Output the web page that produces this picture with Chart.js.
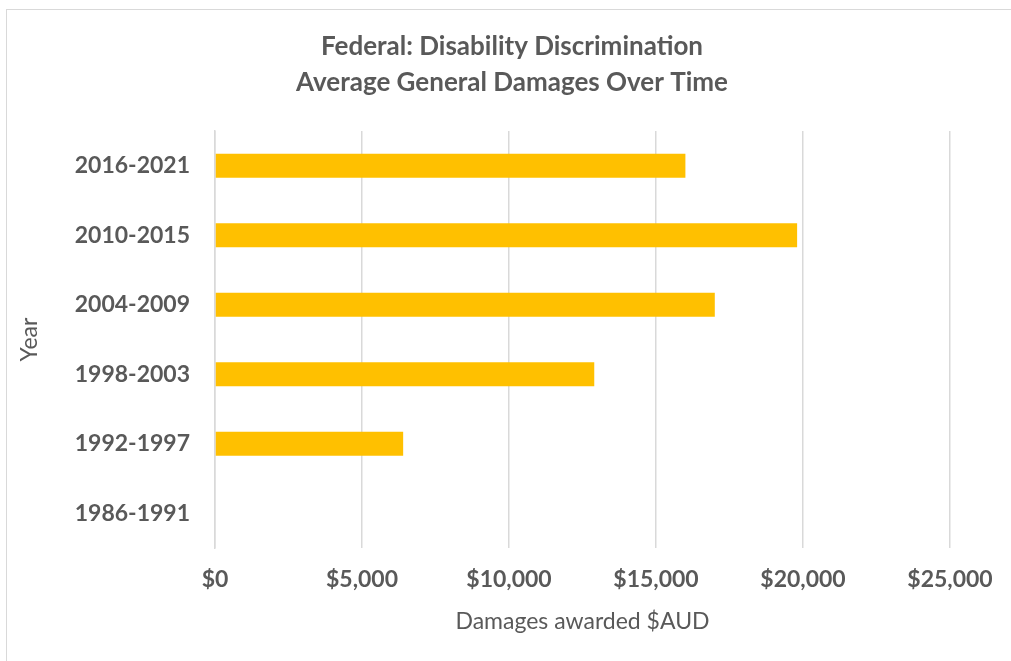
<!DOCTYPE html>
<html>
<head>
<meta charset="utf-8">
<script src="https://cdn.jsdelivr.net/npm/chart.js@4/dist/chart.umd.min.js"></script>
<style>
  html, body { margin: 0; padding: 0; background: #fff; overflow: hidden; }
  #frame {
    position: absolute; left: 6px; top: 9px; width: 1100px; height: 800px;
    border-top: 1px solid #d9d9d9; border-left: 1px solid #d9d9d9;
  }
  #wrap { position: absolute; left: 0; top: 0; width: 1011px; height: 661px; }
</style>
</head>
<body>
<div id="frame"></div>
<div id="wrap"><canvas id="damagesChart"></canvas></div>
<script>
const periods = ['2016-2021', '2010-2015', '2004-2009', '1998-2003', '1992-1997', '1986-1991'];
const avgDamages = [16000, 19800, 17000, 12900, 6400, 0];

const textColor = '#595959';
const gridColor = '#d9d9d9';
const fontFamily = 'Lato, "Open Sans", sans-serif';

// left padding keeps the title centred over the whole frame,
// the y title is pulled back out into that padding
const padLeft = 74;
const yTitleSize = 23;

const data = {
    labels: periods,
    datasets: [{
        label: 'Average general damages',
        data: avgDamages,
        backgroundColor: '#ffc000',
        barPercentage: 0.345,
        categoryPercentage: 1.0,
    }]
};

const config = {
    type: 'bar',
    data: data,
    options: {
        indexAxis: 'y',
        responsive: true,
        maintainAspectRatio: false,
        animation: false,
        layout: {
            padding: { top: 0, right: 61, bottom: 0, left: padLeft }
        },
        plugins: {
            legend: { display: false },
            tooltip: { enabled: false },
            title: {
                display: true,
                text: ['Federal: Disability Discrimination', 'Average General Damages Over Time'],
                color: textColor,
                font: { family: fontFamily, size: 26, weight: 'bold', lineHeight: 36 / 26 },
                padding: { top: 29, bottom: 30 }
            }
        },
        scales: {
            x: {
                min: 0,
                max: 25000,
                ticks: {
                    stepSize: 5000,
                    color: textColor,
                    padding: 18,
                    font: { family: fontFamily, size: 23, weight: 'bold' },
                    callback: v => '$' + v.toLocaleString('en-US')
                },
                grid: { color: gridColor, lineWidth: 1.5, drawTicks: false },
                border: { display: false },
                title: {
                    display: true,
                    text: 'Damages awarded $AUD',
                    color: textColor,
                    font: { family: fontFamily, size: 23 },
                    padding: { top: 0, bottom: 26 }
                },
                afterFit: scale => { scale.height = 113; }
            },
            y: {
                ticks: {
                    color: textColor,
                    padding: 25,
                    font: { family: fontFamily, size: 23, weight: 'bold' }
                },
                grid: { display: false, drawTicks: false },
                border: { display: true, color: gridColor, width: 1.5 },
                title: {
                    display: true,
                    text: 'Year',
                    color: textColor,
                    font: { family: fontFamily, size: yTitleSize },
                    padding: { top: 30 - padLeft - yTitleSize * 0.6, bottom: 0 }
                },
                afterFit: scale => { scale.width = 215 - padLeft; }
            }
        }
    }
};

const damagesChart = new Chart(document.getElementById('damagesChart'), config);
</script>
</body>
</html>
